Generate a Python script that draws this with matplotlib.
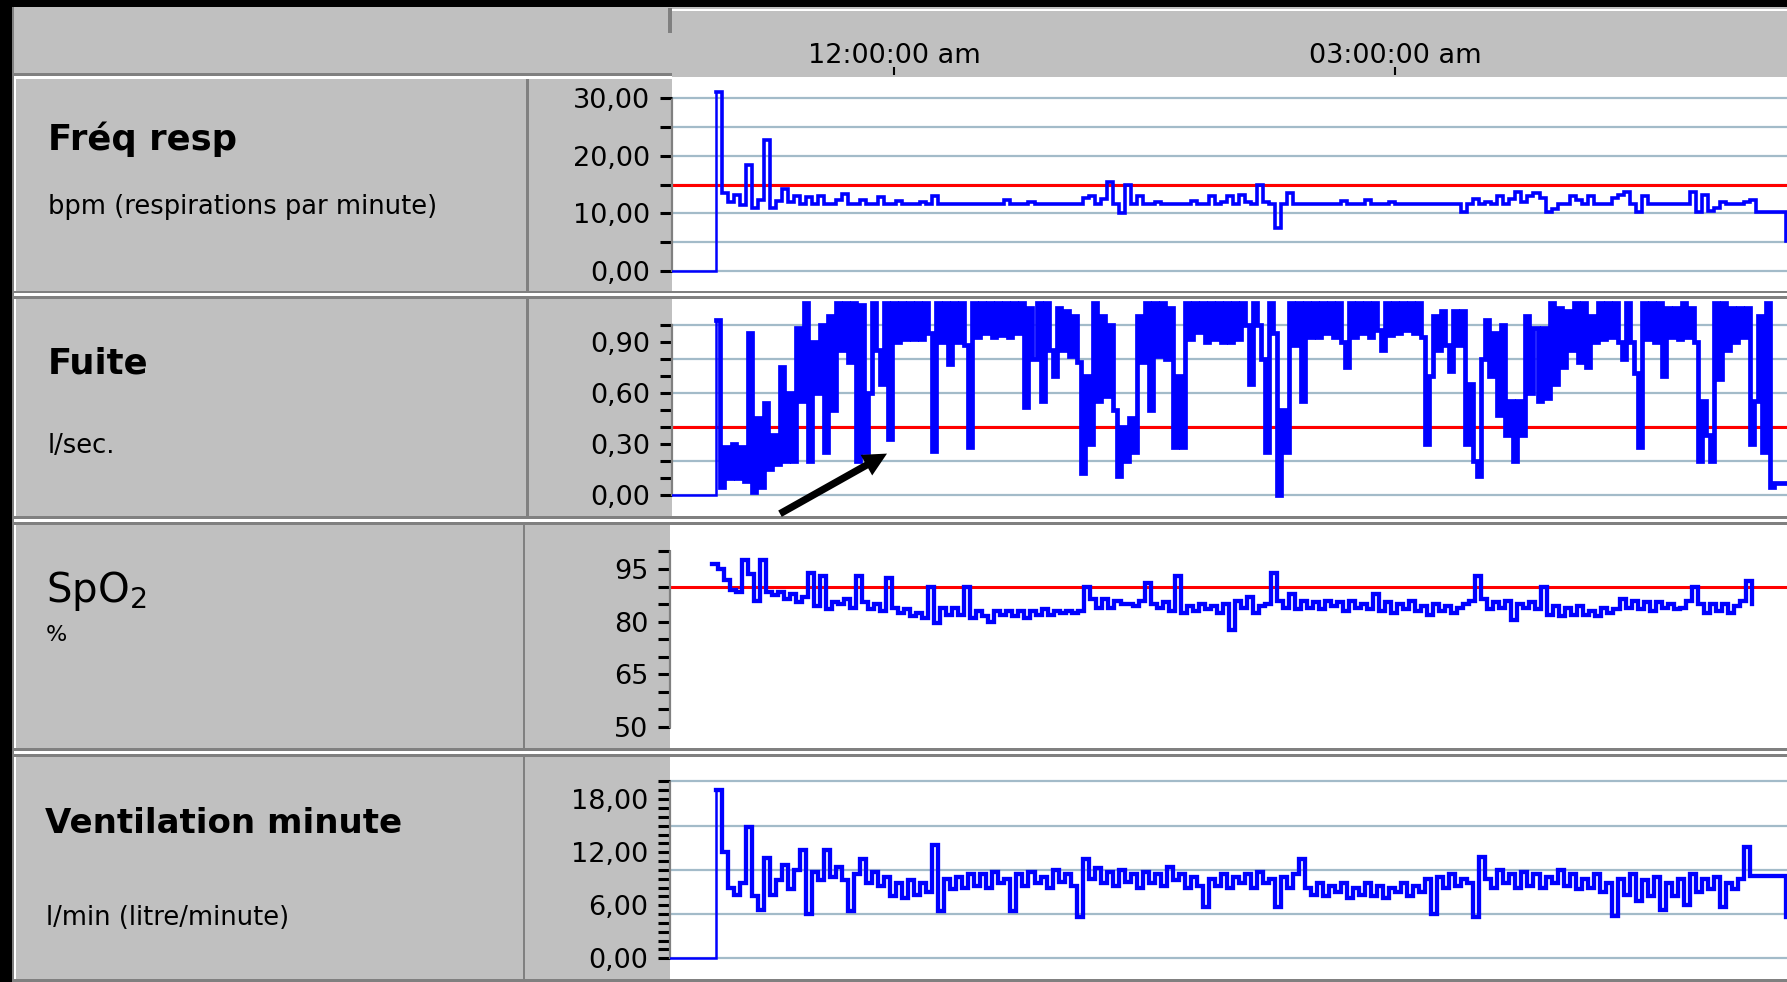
import numpy as np
import matplotlib
matplotlib.use("Agg")
import matplotlib.pyplot as plt
from matplotlib.patches import Rectangle
from matplotlib.transforms import blended_transform_factory

# figure size in pixels
W, H = 1787, 982

# time scale: minutes relative to midnight, 167 px per hour, midnight at x=894
MIDNIGHT_PX = 894
PX_PER_MIN = 167 / 60.0

# recordings (minutes after midnight, negative = before)
REC_START = -64.0
SPO2_START = -65.5
STEP_SLOW = 2.16      # min between samples (freq, spo2, ventilation)
STEP_FUITE = 1.44     # min between samples (leak)

freq_resp = [
    31.0, 13.5, 12.0, 13.2, 11.5, 18.4, 11.0, 12.3, 22.7, 11.0,
    12.2, 14.3, 12.0, 13.0, 11.6, 12.8, 11.6, 13.0, 11.6, 11.6,
    12.3, 13.4, 11.6, 11.6, 12.4, 11.6, 11.6, 12.8, 11.6, 11.6,
    12.2, 11.6, 11.6, 11.6, 12.0, 11.6, 13.0, 11.6, 11.6, 11.6,
    11.6, 11.6, 11.6, 11.6, 11.6, 11.6, 11.6, 11.6, 12.4, 11.6,
    11.6, 11.6, 12.0, 11.6, 11.6, 11.6, 11.6, 11.6, 11.6, 11.6,
    11.6, 12.6, 13.0, 11.6, 12.5, 15.5, 11.6, 10.0, 15.0, 11.6,
    13.0, 11.6, 11.6, 12.0, 11.6, 11.6, 11.6, 11.6, 11.6, 12.2,
    11.6, 11.6, 13.0, 11.6, 12.0, 13.0, 11.6, 13.2, 12.0, 11.6,
    15.0, 12.0, 11.6, 7.5, 11.6, 13.5, 11.6, 11.6, 11.6, 11.6,
    11.6, 11.6, 11.6, 11.6, 12.2, 11.6, 11.6, 11.6, 12.4, 11.6,
    11.6, 11.6, 12.0, 11.6, 11.6, 11.6, 11.6, 11.6, 11.6, 11.6,
    11.6, 11.6, 11.6, 11.6, 10.3, 11.6, 12.5, 11.6, 12.0, 11.6,
    13.0, 11.6, 12.5, 13.8, 12.0, 13.0, 13.6, 12.6, 10.2, 10.8,
    11.6, 11.6, 13.0, 12.4, 11.6, 13.0, 11.6, 11.6, 11.6, 12.6,
    13.2, 13.8, 11.6, 10.2, 13.0, 11.6, 11.6, 11.6, 11.6, 11.6,
    11.6, 11.6, 13.8, 10.2, 13.2, 10.4, 11.0, 12.0, 11.6, 11.6,
    11.6, 12.0, 12.4, 10.2, 10.2, 10.2, 10.2, 10.2, 5.2,
]

fuite = [
    1.03, 0.05, 0.28, 0.10, 0.30, 0.10, 0.28, 0.08, 0.95, 0.02,
    0.45, 0.05, 0.54, 0.15, 0.35, 0.18, 0.75, 0.20, 0.60, 0.20,
    0.98, 0.55, 1.13, 0.20, 0.90, 0.60, 1.00, 0.25, 1.05, 0.50,
    1.13, 0.85, 1.13, 0.78, 1.13, 0.20, 1.12, 0.25, 0.60, 1.13,
    0.85, 0.65, 1.13, 0.33, 1.13, 0.90, 1.13, 0.92, 1.13, 0.92,
    1.13, 0.92, 1.13, 0.95, 0.26, 1.13, 0.90, 1.13, 0.77, 1.13,
    0.90, 1.13, 0.88, 0.28, 1.13, 0.93, 1.13, 0.95, 1.13, 0.93,
    1.13, 0.94, 1.13, 0.93, 1.13, 0.95, 1.13, 0.52, 1.10, 0.80,
    1.13, 0.55, 1.13, 0.85, 0.70, 1.10, 0.85, 1.08, 0.82, 1.05,
    0.78, 0.13, 0.70, 0.30, 1.13, 0.55, 1.05, 0.58, 1.00, 0.50,
    0.11, 0.40, 0.20, 0.45, 0.25, 1.05, 0.78, 1.13, 0.50, 1.13,
    0.82, 1.13, 0.80, 1.10, 0.28, 0.70, 0.28, 1.13, 0.92, 1.13,
    0.96, 1.13, 0.90, 1.13, 0.92, 1.13, 0.90, 1.13, 0.90, 1.13,
    0.92, 1.13, 1.00, 0.65, 1.13, 1.00, 0.80, 0.25, 1.13, 0.95,
    0.00, 0.50, 0.25, 1.13, 0.88, 1.13, 0.55, 1.13, 0.93, 1.13,
    0.93, 1.13, 0.95, 1.13, 0.93, 1.13, 0.90, 0.75, 1.13, 0.93,
    1.13, 0.95, 1.13, 0.93, 1.13, 0.97, 0.85, 1.13, 0.94, 1.13,
    0.95, 1.13, 0.97, 1.13, 0.95, 1.13, 0.93, 0.30, 0.70, 1.05,
    0.85, 1.08, 0.88, 0.73, 1.08, 0.88, 1.08, 0.30, 0.65, 0.20,
    0.11, 0.80, 1.03, 0.70, 0.95, 0.47, 1.00, 0.35, 0.55, 0.20,
    0.55, 0.35, 1.05, 0.60, 0.98, 0.55, 0.98, 0.57, 1.13, 0.65,
    1.10, 0.75, 1.08, 0.85, 1.13, 0.78, 1.13, 0.75, 1.05, 0.90,
    1.13, 0.92, 1.13, 0.93, 1.13, 0.90, 0.80, 1.13, 0.90, 0.72,
    0.28, 1.13, 0.92, 1.13, 0.90, 1.13, 0.70, 1.10, 0.93, 1.10,
    0.92, 1.13, 0.93, 1.10, 0.90, 0.20, 0.55, 0.35, 0.20, 1.13,
    0.68, 1.13, 0.85, 1.10, 0.90, 1.10, 0.93, 1.10, 0.30, 0.55,
    1.05, 0.25, 1.13, 0.05, 0.07, 0.07, 0.07, 0.07, 0.04,
]

spo2 = [
    96.5, 95.0, 92.0, 89.0, 88.5, 97.5, 93.5, 86.0, 97.5, 88.5,
    87.5, 88.5, 86.5, 88.0, 85.5, 87.0, 94.0, 84.5, 93.0, 83.5,
    85.5, 85.0, 86.5, 84.0, 93.0, 85.5, 83.5, 85.0, 83.0, 92.5,
    84.0, 82.5, 83.5, 81.5, 82.5, 81.0, 90.0, 79.5, 84.0, 82.0,
    84.0, 82.0, 90.0, 81.0, 83.0, 81.5, 80.0, 83.0, 82.0, 83.0,
    81.5, 83.0, 81.0, 83.0, 82.0, 83.5, 82.0, 83.0, 82.5, 83.0,
    82.5, 83.0, 90.0, 86.5, 84.0, 86.5, 84.0, 86.0, 85.0, 85.0,
    84.5, 86.0, 91.0, 85.0, 84.0, 85.5, 83.0, 93.0, 82.5, 84.5,
    83.0, 85.0, 83.5, 84.5, 82.5, 85.0, 77.5, 86.0, 84.0, 87.0,
    82.5, 84.5, 85.0, 94.0, 86.0, 84.0, 88.0, 83.5, 86.0, 84.0,
    85.5, 83.5, 86.0, 84.5, 85.5, 83.0, 86.0, 84.0, 85.0, 83.5,
    88.0, 83.0, 85.5, 82.5, 85.0, 83.5, 86.0, 83.0, 84.5, 82.0,
    85.0, 83.0, 84.5, 82.5, 84.0, 85.0, 86.0, 93.0, 86.5, 83.5,
    85.5, 84.0, 86.0, 80.5, 85.0, 84.0, 85.5, 83.5, 90.0, 82.0,
    84.5, 81.5, 84.0, 82.0, 84.5, 82.0, 83.0, 81.5, 84.0, 82.5,
    83.5, 86.5, 84.0, 86.0, 83.5, 85.5, 83.0, 85.5, 84.0, 85.0,
    83.5, 84.0, 86.0, 90.0, 85.0, 82.5, 85.0, 83.0, 85.0, 82.5,
    84.5, 86.0, 91.5, 85.0,
]

ventilation = [
    19.0, 12.0, 8.0, 7.2, 8.5, 14.9, 7.0, 5.5, 11.3, 7.2,
    8.8, 10.5, 7.8, 10.0, 12.3, 5.0, 9.8, 8.8, 12.3, 9.2,
    10.3, 8.8, 5.3, 9.5, 11.2, 8.5, 9.8, 8.2, 9.2, 7.0,
    8.5, 6.8, 8.8, 7.2, 8.5, 7.5, 12.8, 5.3, 9.0, 7.8,
    9.2, 8.0, 9.5, 8.2, 9.5, 8.0, 9.8, 8.5, 9.0, 5.3,
    9.5, 8.2, 9.8, 8.5, 9.2, 8.0, 10.0, 8.6, 9.5, 8.2,
    4.7, 11.2, 9.0, 10.2, 8.5, 9.8, 8.2, 10.0, 8.6, 9.5,
    8.0, 9.8, 8.5, 9.5, 8.2, 10.3, 8.8, 9.5, 8.0, 9.2,
    8.2, 5.8, 9.0, 8.2, 9.5, 8.0, 9.2, 8.5, 9.5, 8.0,
    9.8, 8.5, 9.0, 5.8, 9.2, 8.0, 9.5, 11.2, 8.0, 7.2,
    8.5, 7.0, 8.2, 7.5, 8.5, 6.8, 8.0, 7.2, 8.5, 7.0,
    8.2, 6.8, 8.0, 7.5, 8.5, 7.0, 8.2, 7.5, 9.0, 5.0,
    9.2, 8.0, 9.5, 8.2, 9.0, 8.5, 4.7, 11.5, 9.0, 8.0,
    10.0, 8.5, 9.5, 8.0, 9.8, 8.2, 9.5, 8.0, 9.2, 8.5,
    10.0, 8.2, 9.5, 7.8, 9.0, 8.0, 9.5, 7.5, 8.5, 4.8,
    9.0, 7.2, 9.5, 6.5, 8.8, 7.0, 9.2, 5.5, 8.5, 7.0,
    9.0, 6.0, 9.5, 7.5, 9.0, 7.8, 9.2, 5.8, 8.5, 7.8,
    9.0, 12.6, 9.3, 9.3, 9.3, 9.3, 9.3, 9.3, 4.7,
]

# axis ticks / labels / grid / alarm thresholds
header_ticks = [0, 180]
header_labels = ["12:00:00 am", "03:00:00 am"]

BG = "#C0C0C0"
DARK = "#808080"
GRID = "#A3BBC9"
BLUE = "#0000FF"
RED = "#FF0000"


def px_to_min(x):
    return (x - MIDNIGHT_PX) / PX_PER_MIN


fig = plt.figure(figsize=(W / 100, H / 100), dpi=100, facecolor=BG)

# background canvas in pixel coordinates (frames, bevels, labels)
bg = fig.add_axes([0, 0, 1, 1])
bg.set_xlim(0, W)
bg.set_ylim(H, 0)
bg.axis("off")


def rect(x0, y0, x1, y1, color):
    bg.add_patch(Rectangle((x0, y0), x1 - x0, y1 - y0, color=color, lw=0))


rect(0, 0, W, 7, "black")
rect(0, 0, 12, H, "black")
rect(12, 7, 14, H, DARK)
rect(14, 77, 16, H, "white")
# header
rect(12, 73, 672, 76, DARK)
rect(14, 76, 672, 79, "white")
rect(672, 9, W, 11, "white")
rect(668, 8, 672, 33, DARK)
# panel separators
for y0 in (290.7, 516, 748):
    rect(12, y0, W, y0 + 2.7, DARK)
    rect(14, y0 + 2.7, W, y0 + 5.6, "white")
    rect(12, y0 + 5.6, W, y0 + 8.6, DARK)
rect(12, 978.7, W, H, DARK)
# label column dividers
rect(526, 79, 529, 290.7, DARK)
rect(526, 299.3, 529, 516, DARK)
rect(522.7, 525, 525.3, 748, DARK)
rect(522.7, 757, 525.3, 978.7, DARK)

# panel labels
TITLE = 25.5
SUB = 18.5
bg.text(48, 150, "Fréq resp", fontsize=TITLE, fontweight="bold", va="baseline")
bg.text(48, 214, "bpm (respirations par minute)", fontsize=SUB, va="baseline")
bg.text(48, 373, "Fuite", fontsize=TITLE, fontweight="bold", va="baseline")
bg.text(48, 453, "l/sec.", fontsize=SUB, va="baseline")
bg.text(46, 602, r"SpO$_2$", fontsize=29, va="baseline")
bg.text(46, 641, "%", fontsize=16, va="baseline")
bg.text(45, 833, "Ventilation minute", fontsize=TITLE - 1, fontweight="bold", va="baseline")
bg.text(46, 925, "l/min (litre/minute)", fontsize=SUB, va="baseline")


def add_panel(left, top, bottom, ylim):
    ax = fig.add_axes([left / W, 1 - bottom / H, (W - left) / W, (bottom - top) / H])
    ax.set_facecolor("white")
    ax.set_xlim(px_to_min(left), px_to_min(W))
    ax.set_ylim(*ylim)
    ax.set_xticks([])
    for s in ("top", "right", "bottom"):
        ax.spines[s].set_visible(False)
    ax.spines["left"].set_color(DARK)
    ax.spines["left"].set_linewidth(1.6)
    ax.spines["left"].set_linestyle((0, (1, 1)))
    ax.tick_params(axis="y", length=8.6, width=2.2, color="black", pad=7,
                   labelsize=19.5, direction="out")
    return ax


def set_ticks(ax, ticks, labeled, fmt):
    labels = [fmt(v) if any(np.isclose(v, labeled)) else "" for v in ticks]
    ax.set_yticks(ticks, labels)
    ax.spines["left"].set_bounds(ticks[0], ticks[-1])


def comma(v):
    return f"{v:.2f}".replace(".", ",")


ax1 = add_panel(672, 77, 290.7, (-3.42, 33.68))
ax2 = add_panel(672, 299.3, 516, (-0.1235, 1.151))
ax3 = add_panel(670, 525, 748, (44.02, 107.53))
ax4 = add_panel(670, 757, 978.7, (-2.31, 22.77))

set_ticks(ax1, np.arange(0, 31, 5), [0, 10, 20, 30], comma)
set_ticks(ax2, np.round(np.arange(0, 1.01, 0.1), 2), [0, 0.3, 0.6, 0.9], comma)
set_ticks(ax3, np.arange(50, 101, 5), [50, 65, 80, 95], lambda v: f"{v:.0f}")
set_ticks(ax4, np.arange(0, 21, 1), [0, 6, 12, 18], comma)

for ax, grid in ((ax1, np.arange(0, 31, 5)), (ax2, np.arange(0, 1.01, 0.2)),
                 (ax4, np.arange(0, 21, 5))):
    for g in grid:
        ax.axhline(g, color=GRID, lw=1.6, zorder=1)

for ax, lim in ((ax1, 15), (ax2, 0.4), (ax3, 90)):
    ax.axhline(lim, color=RED, lw=2.2, zorder=2)


def plot_series(ax, start, step, values, lw, lead_in=True):
    t = start + step * np.arange(len(values))
    v = np.asarray(values, dtype=float)
    if lead_in:
        # flat zero line before the recording starts, then the jump up
        ax.plot([ax.get_xlim()[0], t[0], t[0]], [0, 0, v[0]], color=BLUE,
                lw=1.8, zorder=3, solid_joinstyle="miter")
    ax.plot(t, v, drawstyle="steps-post", color=BLUE, lw=lw, zorder=3,
            solid_joinstyle="miter")


plot_series(ax1, REC_START, STEP_SLOW, freq_resp, 2.6)
plot_series(ax2, REC_START, STEP_FUITE, fuite, 3.4)
plot_series(ax3, SPO2_START, STEP_SLOW, spo2, 3.1, lead_in=False)
plot_series(ax4, REC_START, STEP_SLOW, ventilation, 3.1)

# arrow pointing at the leak events
ax2.annotate("", xy=(px_to_min(887), 0.2435), xytext=(px_to_min(780), -0.11),
             arrowprops=dict(arrowstyle="simple,head_length=0.85,head_width=0.85,tail_width=0.26",
                             mutation_scale=20, color="black", lw=0,
                             shrinkA=0, shrinkB=0),
             annotation_clip=False, zorder=5)

# header time labels
hdr = blended_transform_factory(ax1.transData, bg.transData)
for t, lab in zip(header_ticks, header_labels):
    bg.text(t, 62.5, lab, transform=hdr, ha="center", va="baseline", fontsize=19.5)
bg.vlines(header_ticks, 67, 75, transform=hdr, color="black", lw=1.5)

fig.savefig("out.png", dpi=100, facecolor=BG)
